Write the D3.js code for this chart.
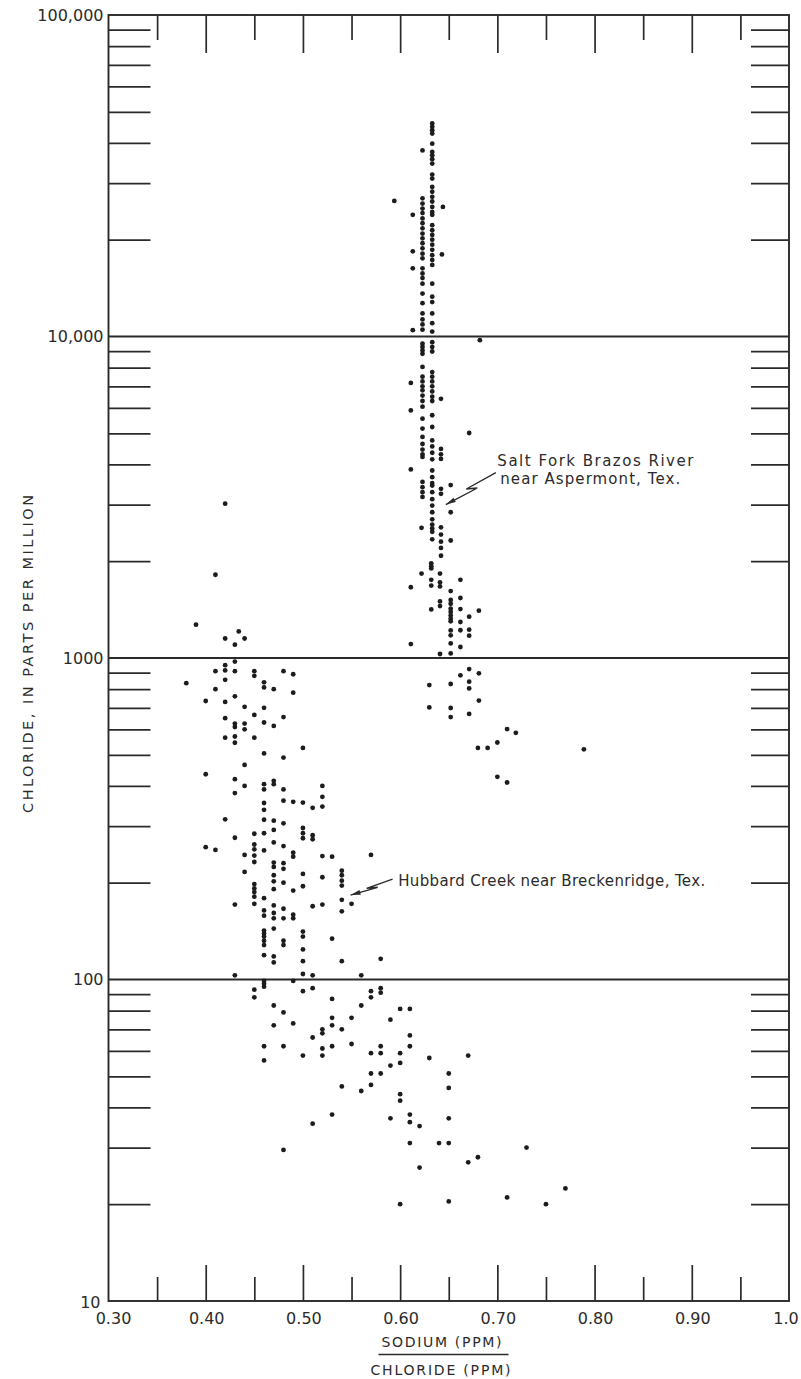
<!DOCTYPE html>
<html>
<head>
<meta charset="utf-8">
<script src="https://cdn.jsdelivr.net/npm/d3@7"></script>
<style>
body { margin: 0; background: #fff; }
svg text { font-family: "DejaVu Sans", sans-serif; fill: #2b2b2b; }
</style>
</head>
<body>
<div id="chart-container"></div>
<script>
// sodium/chloride ratio vs chloride (ppm)
var hubbardCreek = [
  [0.39,1270],[0.434,1210],[0.42,1150],[0.44,1150],[0.43,1100],[0.42,3020],[0.41,1815],
  [0.43,975],[0.42,950],[0.42,915],[0.41,910],[0.43,910],[0.45,910],[0.45,880],[0.48,910],[0.49,890],
  [0.38,835],[0.42,855],[0.46,840],[0.46,810],[0.47,800],[0.41,800],[0.49,780],[0.43,760],[0.40,735],
  [0.42,730],[0.44,705],[0.46,700],[0.45,665],[0.42,650],[0.48,655],[0.46,630],[0.47,615],[0.43,625],
  [0.43,610],[0.44,625],[0.44,600],[0.42,565],[0.43,570],[0.43,545],[0.45,565],[0.50,525],[0.46,505],
  [0.48,490],[0.44,465],[0.40,435],[0.43,420],[0.44,400],[0.46,405],[0.46,390],[0.47,415],[0.47,405],
  [0.48,390],[0.52,400],[0.52,370],[0.43,380],
  [0.52,345],[0.48,360],[0.49,357],[0.50,355],[0.51,342],[0.46,354],[0.46,337],[0.42,315],[0.46,314],
  [0.47,312],[0.48,306],[0.50,296],[0.50,285],[0.50,275],[0.51,281],[0.51,273],[0.47,292],[0.46,285],
  [0.45,284],[0.43,276],[0.47,267],[0.40,258],[0.41,253],[0.48,260],[0.45,263],[0.45,254],[0.45,243],
  [0.45,232],[0.46,252],[0.44,244],[0.49,248],[0.49,241],[0.52,242],[0.53,241],[0.57,244],[0.47,231],
  [0.47,224],[0.48,230],[0.48,221],[0.44,216],[0.47,211],[0.47,202],[0.47,191],[0.48,200],[0.50,213],
  [0.50,195],[0.52,208],[0.54,218],[0.54,211],[0.54,203],[0.54,196],[0.45,198],[0.45,192],[0.45,187],
  [0.45,181],[0.49,189],[0.46,179],[0.43,171],[0.45,172],[0.47,170],[0.48,166],[0.46,164],[0.46,158],
  [0.51,169],[0.52,171],[0.54,177],[0.55,172],[0.54,163],[0.47,161],[0.47,155],[0.48,155],[0.49,159],
  [0.49,155],[0.47,144],[0.46,142],[0.46,139],[0.46,136],[0.46,132],[0.46,128],[0.50,141],[0.50,136],
  [0.48,132],[0.48,128],[0.53,134],[0.50,124],[0.46,119],[0.47,118],[0.47,113],[0.50,114],[0.54,114],
  [0.58,116],[0.43,103],[0.50,104],[0.51,103],[0.56,103],
  [0.46,99],[0.46,97],[0.46,95],[0.49,99],[0.45,93],[0.45,88],[0.50,92],[0.51,94],[0.57,92],[0.57,88],
  [0.58,94],[0.58,91],[0.53,87],[0.47,83],[0.56,83],[0.48,79],[0.60,81],[0.61,81],[0.53,76],[0.55,76],
  [0.59,75],[0.47,72],[0.49,73],[0.53,72],[0.52,70],[0.52,68],[0.54,70],[0.61,67],[0.51,66],[0.46,62],
  [0.48,62],[0.53,62],[0.55,63],[0.58,62],[0.61,62],[0.52,61],[0.52,58],[0.46,56],[0.50,58],[0.57,59],
  [0.58,59],[0.60,59],[0.63,57],[0.67,58],[0.60,55],[0.59,54],[0.57,51],[0.58,51],[0.65,51],[0.54,46.5],
  [0.56,45],[0.57,47],[0.65,46],[0.60,44],[0.60,42],[0.53,38],[0.59,37],[0.61,38],[0.61,36],[0.65,37],
  [0.51,35.6],[0.62,35],[0.61,31],[0.64,31],[0.65,31],[0.48,29.5],[0.62,26],[0.67,27],[0.68,28],
  [0.60,20],[0.65,20.4],[0.73,30],[0.71,21],[0.75,20],[0.77,22.4]
];

var saltFork = [
  // column near 0.633, above 10,000
  [0.633,46000],[0.633,44900],[0.633,43800],[0.633,42800],[0.633,39800],[0.633,37500],[0.633,36600],
  [0.633,35600],[0.633,34500],[0.633,31900],[0.633,31000],[0.633,29200],[0.633,28200],[0.633,27200],
  [0.633,26300],[0.633,25300],[0.633,24400],[0.633,23900],[0.633,22200],[0.633,21400],[0.633,20700],
  [0.633,20000],[0.633,19300],[0.633,18600],[0.633,17900],[0.633,17300],[0.633,16700],[0.633,14600],
  [0.633,13300],[0.633,12800],[0.633,11800],[0.633,11000],[0.633,10360],
  // column near 0.623, above 10,000
  [0.623,37900],[0.623,26900],[0.623,25900],[0.623,25000],[0.623,24200],[0.623,23300],[0.623,22500],
  [0.623,21700],[0.623,20900],[0.623,20200],[0.623,19500],[0.623,18800],[0.623,18100],[0.623,17500],
  [0.623,16300],[0.623,15700],[0.623,15200],[0.623,14600],[0.623,13600],[0.623,12700],[0.623,11800],
  [0.623,11300],[0.623,10900],[0.623,10500],
  [0.594,26400],[0.613,23900],[0.644,25300],[0.613,18400],[0.643,18000],[0.613,16300],[0.613,10460],
  [0.682,9740],
  // 1000 - 10,000
  [0.623,9500],[0.623,9280],[0.623,9050],[0.623,8830],[0.623,8040],[0.623,7500],[0.623,7250],[0.623,7000],
  [0.623,6800],[0.623,6550],[0.623,6300],[0.623,6050],[0.623,5550],[0.623,5170],[0.623,4870],[0.623,4630],
  [0.623,4450],[0.623,4300],[0.623,4220],[0.623,3530],[0.623,3400],[0.623,3280],[0.623,3170],[0.622,2540],
  [0.633,9600],[0.633,9280],[0.633,8980],[0.633,7750],[0.633,7500],[0.633,7250],[0.633,7000],[0.633,6750],
  [0.633,6500],[0.633,6300],[0.633,5690],[0.633,5230],[0.633,4750],[0.633,4550],[0.633,4350],[0.633,4150],
  [0.633,3830],[0.633,3650],[0.633,3500],[0.633,3440],[0.633,3280],[0.633,3120],[0.633,2980],[0.633,2840],
  [0.633,2700],[0.633,2600],[0.633,2530],[0.633,2470],[0.633,2340],
  [0.642,6400],[0.642,4470],[0.642,4300],[0.642,4160],[0.642,3360],[0.642,3240],[0.642,2550],[0.642,2420],
  [0.642,2300],[0.642,2200],[0.642,2080],
  [0.652,3450],[0.652,2840],[0.652,2320],
  [0.611,7170],[0.611,5890],[0.671,5010],[0.611,3860],
  [0.632,1970],[0.632,1930],[0.632,1900],[0.622,1830],[0.641,1830],[0.632,1750],[0.632,1680],[0.641,1720],
  [0.641,1670],[0.662,1750],[0.611,1660],[0.652,1615],[0.641,1500],[0.641,1450],[0.652,1515],[0.652,1475],
  [0.652,1424],[0.652,1390],[0.652,1357],[0.652,1325],[0.652,1300],[0.662,1537],[0.632,1416],[0.662,1420],
  [0.681,1403],[0.671,1344],[0.662,1294],[0.652,1218],[0.652,1176],[0.662,1220],[0.671,1225],[0.671,1173],
  [0.611,1105],[0.652,1110],[0.662,1082],[0.641,1029],[0.652,1033],
  [0.671,924],[0.681,896],[0.662,883],[0.671,844],[0.671,804],[0.630,824],[0.652,830],[0.681,737],
  [0.630,702],[0.652,699],[0.652,655],[0.671,670],[0.71,601],[0.719,585],[0.70,546],[0.68,525],
  [0.69,525],[0.789,520],[0.70,427],[0.71,410]
];

var xTickValues = [0.3, 0.4, 0.5, 0.6, 0.7, 0.8, 0.9, 1.0];
var xTickLabels = ["0.30", "0.40", "0.50", "0.60", "0.70", "0.80", "0.90", "1.0"];
var xMinorValues = [0.35, 0.45, 0.55, 0.65, 0.75, 0.85, 0.95];
var yTickValues = [10, 100, 1000, 10000, 100000];
var yTickLabels = ["10", "100", "1000", "10,000", "100,000"];

var margin = { top: 15, right: 12, bottom: 78, left: 108.5 },
    width = 801 - margin.left - margin.right,
    height = 1379 - margin.top - margin.bottom;

var ink = "#2a2a2a";

var svg = d3.select("#chart-container")
    .append("svg")
    .attr("width", width + margin.left + margin.right)
    .attr("height", height + margin.top + margin.bottom)
    .append("g")
    .attr("transform", "translate(" + margin.left + "," + margin.top + ")");

var x = d3.scaleLinear().domain([0.3, 1.0]).range([0, width]);
var y = d3.scaleLog().domain([10, 100000]).range([height, 0]);

// minor log ticks 2..9 in every decade
var yMinor = [];
[10, 100, 1000, 10000].forEach(function(d) {
    for (var m = 2; m <= 9; m++) yMinor.push(m * d);
});

function styleAxis(g) {
    g.select(".domain").remove();
    g.selectAll("line").attr("stroke", ink).attr("stroke-width", 1.7);
}

// left and right minor ticks
svg.append("g").call(d3.axisRight(y).tickValues(yMinor).tickSize(42).tickFormat("")).call(styleAxis);
svg.append("g").attr("transform", "translate(" + width + ",0)")
    .call(d3.axisLeft(y).tickValues(yMinor).tickSize(38).tickFormat("")).call(styleAxis);

// top ticks (pointing down) and bottom ticks (pointing up)
svg.append("g").call(d3.axisBottom(x).tickValues(xTickValues.slice(1, -1)).tickSize(38).tickFormat("")).call(styleAxis);
svg.append("g").call(d3.axisBottom(x).tickValues(xMinorValues).tickSize(25).tickFormat("")).call(styleAxis);
svg.append("g").attr("transform", "translate(0," + height + ")")
    .call(d3.axisTop(x).tickValues(xTickValues.slice(1, -1)).tickSize(36).tickFormat("")).call(styleAxis);
svg.append("g").attr("transform", "translate(0," + height + ")")
    .call(d3.axisTop(x).tickValues(xMinorValues).tickSize(24).tickFormat("")).call(styleAxis);

// full width decade lines
svg.selectAll(".decade")
    .data([100, 1000, 10000])
    .enter().append("line")
    .attr("x1", 0).attr("x2", width)
    .attr("y1", function(d) { return y(d); })
    .attr("y2", function(d) { return y(d); })
    .attr("stroke", ink).attr("stroke-width", 1.9);

// frame
svg.append("rect")
    .attr("width", width).attr("height", height)
    .attr("fill", "none").attr("stroke", ink).attr("stroke-width", 1.9);

// tick labels
svg.selectAll(".ylab")
    .data(yTickValues)
    .enter().append("text")
    .attr("x", function(d, i) { return i == 0 ? -8 : -5; })
    .attr("y", function(d, i) { return y(d) + (i == 0 ? 1 : 0); })
    .attr("dy", "0.36em")
    .attr("text-anchor", "end")
    .style("font-size", "16px")
    .text(function(d, i) { return yTickLabels[i]; });

svg.selectAll(".xlab")
    .data(xTickValues)
    .enter().append("text")
    .attr("x", function(d, i) { return x(d) + (i == 0 ? 5 : (i == xTickValues.length - 1 ? -3 : 1)); })
    .attr("y", height + 22.5)
    .attr("text-anchor", "middle")
    .style("font-size", "16px")
    .text(function(d, i) { return xTickLabels[i]; });

// axis titles
svg.append("text")
    .attr("transform", "translate(" + (-75.5) + "," + 639 + ") rotate(-90)")
    .attr("text-anchor", "middle")
    .style("font-size", "14.5px")
    .attr("textLength", 318)
    .attr("lengthAdjust", "spacing")
    .text("CHLORIDE, IN PARTS PER MILLION");

var tx = 333;
svg.append("text")
    .attr("x", tx - 60).attr("y", height + 46)
    .style("font-size", "14px")
    .attr("textLength", 120)
    .attr("lengthAdjust", "spacing")
    .text("SODIUM (PPM)");
svg.append("line")
    .attr("x1", tx - 63).attr("x2", tx + 67)
    .attr("y1", height + 53.5).attr("y2", height + 53.5)
    .attr("stroke", ink).attr("stroke-width", 1.5);
svg.append("text")
    .attr("x", tx - 71).attr("y", height + 74)
    .style("font-size", "14px")
    .attr("textLength", 140)
    .attr("lengthAdjust", "spacing")
    .text("CHLORIDE (PPM)");

// points
svg.selectAll(".hub")
    .data(hubbardCreek)
    .enter().append("circle")
    .attr("cx", function(d) { return x(d[0]); })
    .attr("cy", function(d) { return y(d[1]); })
    .attr("r", 2.4)
    .attr("fill", "#1c1c1c");

svg.selectAll(".salt")
    .data(saltFork)
    .enter().append("circle")
    .attr("cx", function(d) { return x(d[0]); })
    .attr("cy", function(d) { return y(d[1]); })
    .attr("r", 2.4)
    .attr("fill", "#1c1c1c");

// labels with lightning-style leaders
function leader(tipX, tipY, tailX, tailY) {
    var mx = tipX + (tailX - tipX) * 0.55, my = tipY + (tailY - tipY) * 0.55;
    var p = d3.path();
    p.moveTo(tailX, tailY);
    p.lineTo(mx - 7, my + 2);
    p.lineTo(mx + 4, my + 1);
    p.lineTo(tipX, tipY);
    svg.append("path").attr("d", p.toString())
        .attr("fill", "none").attr("stroke", ink).attr("stroke-width", 1.4);
    var ang = Math.atan2(tipY - my - 1, tipX - mx - 4);
    var len = 10, half = 2.4;
    var bx = tipX - len * Math.cos(ang), by = tipY - len * Math.sin(ang);
    svg.append("path")
        .attr("d", "M" + tipX + "," + tipY +
            "L" + (bx - half * Math.sin(ang)) + "," + (by + half * Math.cos(ang)) +
            "L" + (bx + half * Math.sin(ang)) + "," + (by - half * Math.cos(ang)) + "Z")
        .attr("fill", ink);
}

function note(vx, vy, dy, len, str) {
    svg.append("text").attr("x", x(vx)).attr("y", y(vy) + dy).attr("dy", "0.35em")
        .style("font-size", "15px")
        .attr("textLength", len).attr("lengthAdjust", "spacing")
        .text(str);
}

var sx = x(0.647), sy = y(3000);
leader(sx, sy, sx + 50, sy - 32);
note(0.70, 4100, 0, 196, "Salt Fork Brazos River");
note(0.703, 4100, 18, 180, "near Aspermont, Tex.");

var hx = x(0.549), hy = y(183);
leader(hx, hy, hx + 42, hy - 16);
note(0.598, 203, 0, 307, "Hubbard Creek near Breckenridge, Tex.");
</script>
</body>
</html>
